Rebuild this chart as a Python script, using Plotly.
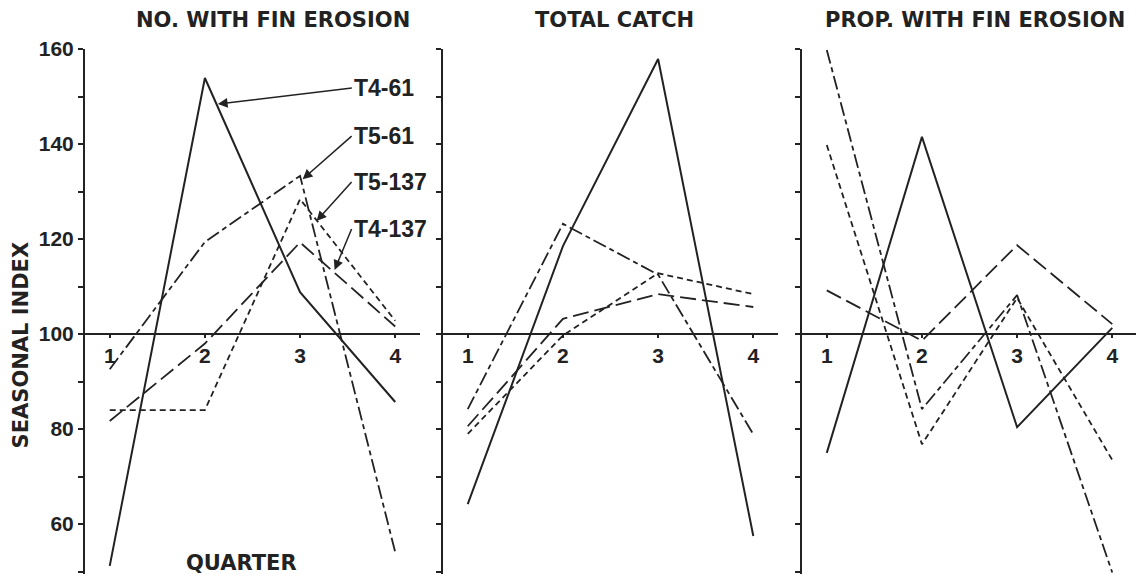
import plotly.graph_objects as go

quarters = [1, 2, 3, 4]
series_names = ["T4-61", "T5-61", "T5-137", "T4-137"]

# Panel 1: NO. WITH FIN EROSION
fin_no = {
    "T4-61": [51.2, 153.9, 108.8, 85.7],
    "T5-61": [92.6, 119.4, 133.3, 54.1],
    "T5-137": [84.0, 84.0, 128.4, 102.8],
    "T4-137": [81.7, 98.0, 119.3, 101.6],
}
# Panel 2: TOTAL CATCH
total_catch = {
    "T4-61": [64.2, 118.5, 157.9, 57.5],
    "T5-61": [84.2, 123.2, 112.5, 78.9],
    "T5-137": [79.0, 99.7, 112.8, 108.4],
    "T4-137": [80.6, 103.2, 108.4, 105.7],
}
# Panel 3: PROP. WITH FIN EROSION
fin_prop = {
    "T4-61": [75.0, 141.5, 80.4, 101.3],
    "T5-61": [159.8, 84.2, 108.2, 49.8],
    "T5-137": [139.8, 76.8, 107.6, 73.5],
    "T4-137": [109.2, 98.6, 118.7, 102.1],
}
panel_titles = ["NO. WITH FIN EROSION", "TOTAL CATCH", "PROP. WITH FIN EROSION"]
y_ticks = [50, 60, 70, 80, 90, 100, 110, 120, 130, 140, 150, 160]
y_tick_labels = ["", "60", "", "80", "", "100", "", "120", "", "140", "", "160"]

dash_styles = {
    "T4-61": "solid",
    "T5-61": "14px,4px,5px,4px",
    "T5-137": "6px,4px",
    "T4-137": "16px,6px",
}
line_widths = {"T4-61": 2.0, "T5-61": 1.8, "T5-137": 1.8, "T4-137": 1.8}

INK = "#222222"
LABEL_FONT = dict(family="DejaVu Sans", size=21, color=INK, weight="bold")
NUM_FONT = dict(family="Liberation Sans", size=21, color=INK, weight="bold")

YMIN, YMAX = 49.5, 160.0
XMIN, XMAX = 0.74, 4.26

fig = go.Figure()
panels = [fin_no, total_catch, fin_prop]
for i, data in enumerate(panels):
    suffix = "" if i == 0 else str(i + 1)
    for name in series_names:
        fig.add_trace(go.Scatter(
            x=quarters, y=data[name], mode="lines", name=name,
            line=dict(color=INK, width=line_widths[name], dash=dash_styles[name]),
            xaxis="x" + suffix, yaxis="y" + suffix, showlegend=False,
        ))

domains = [[0.0, 0.3184], [0.3403, 0.6588], [0.6816, 1.0]]
pos100 = (100 - YMIN) / (YMAX - YMIN)
layout = dict(
    width=1136, height=573,
    margin=dict(l=77, r=7, t=41, b=7),
    paper_bgcolor="white", plot_bgcolor="white",
    showlegend=False,
)
for i in range(3):
    suffix = "" if i == 0 else str(i + 1)
    layout["xaxis" + suffix] = dict(
        domain=domains[i], range=[XMIN, XMAX], anchor="free", position=pos100,
        showline=True, linecolor=INK, linewidth=2,
        ticks="outside", ticklen=3, tickwidth=1.5, tickcolor=INK,
        tickvals=quarters, ticktext=[str(q) for q in quarters],
        tickfont=NUM_FONT, showgrid=False, zeroline=False,
    )
    layout["yaxis" + suffix] = dict(
        domain=[0, 1], range=[YMIN, YMAX], anchor="x" + suffix,
        showline=True, linecolor=INK, linewidth=2,
        ticks="outside", ticklen=5, tickwidth=1.5, tickcolor=INK,
        tickvals=y_ticks, ticktext=y_tick_labels,
        showticklabels=(i == 0), tickfont=NUM_FONT,
        showgrid=False, zeroline=False,
    )
fig.update_layout(**layout)

annotations = []
title_x = [0.1787, 0.5038, 0.846]
for t, xp in zip(panel_titles, title_x):
    annotations.append(dict(text=t, x=xp, y=1.056, xref="paper", yref="paper",
                            showarrow=False, font=LABEL_FONT,
                            xanchor="center", yanchor="middle"))
annotations.append(dict(text="SEASONAL INDEX", x=-0.0605, y=0.436, xref="paper", yref="paper",
                        showarrow=False, textangle=-90, font=LABEL_FONT,
                        xanchor="center", yanchor="middle"))
annotations.append(dict(text="QUARTER", x=2.38, y=51.8, xref="x", yref="y",
                        showarrow=False, font=LABEL_FONT,
                        xanchor="center", yanchor="middle"))

# series labels with arrows (panel 1)
label_heads = {
    "T4-61": (2.136, 148.4, 134, -16),
    "T5-61": (3.027, 132.6, 49, -43),
    "T5-137": (3.174, 123.8, 35, -39),
    "T4-137": (3.363, 113.5, 17, -41),
}
for name in series_names:
    hx, hy, ax, ay = label_heads[name]
    annotations.append(dict(text=name, x=hx, y=hy, xref="x", yref="y",
                            showarrow=True, ax=ax, ay=ay,
                            xanchor="left", yanchor="middle",
                            arrowhead=2, arrowsize=1.3, arrowwidth=1.5, arrowcolor=INK,
                            font=dict(family="Liberation Sans", size=23, color=INK, weight="bold")))
fig.update_layout(annotations=annotations)

fig.write_html("out.html")
